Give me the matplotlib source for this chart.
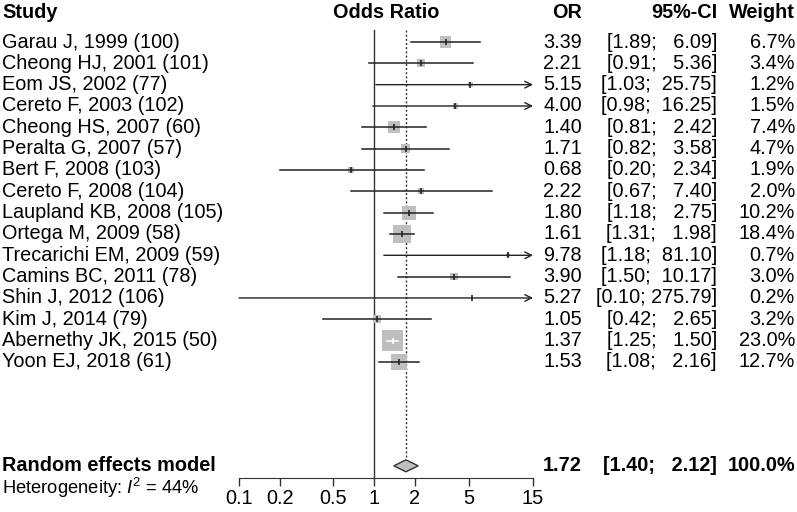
import numpy as np
import matplotlib
matplotlib.use("Agg")
import matplotlib.pyplot as plt
from matplotlib.patches import Polygon
from matplotlib.transforms import blended_transform_factory
from matplotlib.ticker import NullLocator

plt.rcParams['font.family'] = ['Liberation Sans', 'DejaVu Sans']
plt.rcParams['mathtext.fontset'] = 'custom'
plt.rcParams['mathtext.rm'] = 'Liberation Sans'
plt.rcParams['mathtext.it'] = 'Liberation Sans:italic'

# --- data ---
studies = ["Garau J, 1999 (100)", "Cheong HJ, 2001 (101)", "Eom JS, 2002 (77)",
           "Cereto F, 2003 (102)", "Cheong HS, 2007 (60)", "Peralta G, 2007 (57)",
           "Bert F, 2008 (103)", "Cereto F, 2008 (104)", "Laupland KB, 2008 (105)",
           "Ortega M, 2009 (58)", "Trecarichi EM, 2009 (59)", "Camins BC, 2011 (78)",
           "Shin J, 2012 (106)", "Kim J, 2014 (79)", "Abernethy JK, 2015 (50)",
           "Yoon EJ, 2018 (61)"]
odds = [3.39, 2.21, 5.15, 4.00, 1.40, 1.71, 0.68, 2.22, 1.80, 1.61, 9.78, 3.90,
        5.27, 1.05, 1.37, 1.53]
ci_low = [1.89, 0.91, 1.03, 0.98, 0.81, 0.82, 0.20, 0.67, 1.18, 1.31, 1.18, 1.50,
          0.10, 0.42, 1.25, 1.08]
ci_high = [6.09, 5.36, 25.75, 16.25, 2.42, 3.58, 2.34, 7.40, 2.75, 1.98, 81.10, 10.17,
           275.79, 2.65, 1.50, 2.16]
weights = [6.7, 3.4, 1.2, 1.5, 7.4, 4.7, 1.9, 2.0, 10.2, 18.4, 0.7, 3.0, 0.2, 3.2,
           23.0, 12.7]

pooled_or, pooled_low, pooled_high = 1.72, 1.40, 2.12
i2 = 44
tick_vals = [0.1, 0.2, 0.5, 1, 2, 5, 15]
tick_labels = ["0.1", "0.2", "0.5", "1", "2", "5", "15"]

W, H = 797, 512
fig = plt.figure(figsize=(W / 100, H / 100), dpi=100)
ax = fig.add_axes([239 / W, 0, (533 - 239) / W, 1])
ax.set_xscale('log')
ax.set_xlim(0.1, 15)
step = 21.33
ax.set_ylim((H - 42) / step, -42 / step)

rows = np.arange(len(studies))
r_sum = 19.87
r_het = 20.9
r_axis = (478 - 42) / step
r_head = (12 - 42) / step
r_top = (30 - 42) / step

grey = '#bfbfbf'
fs = 14.3

# reference lines
ax.plot([1, 1], [r_top, r_axis], color='#333333', lw=1.0, zorder=1)
ax.plot([pooled_or, pooled_or], [r_top, r_sum - 0.3], color='#333333', lw=1.0,
        ls=(0, (1.5, 1.5)), zorder=1)

lo_lim, hi_lim = ax.get_xlim()
to_px = ax.transData.transform
for r, est, lo, hi, w in zip(rows, odds, ci_low, ci_high, weights):
    side = 21 * np.sqrt(w / 23.0)
    x_est = to_px((est, r))[0]
    inside = (to_px((lo, r))[0] >= x_est - side / 2) and (to_px((hi, r))[0] <= x_est + side / 2)
    col = 'white' if inside else '#222222'
    a = max(lo, lo_lim)
    b = min(hi, hi_lim)
    ax.scatter([est], [r], marker='s', s=(side * 0.72) ** 2, color=grey,
               edgecolors='none', zorder=2)
    if hi > hi_lim:
        ax.annotate('', xy=(b, r), xytext=(a, r),
                    arrowprops=dict(arrowstyle='->', lw=1.0, color='#222222',
                                    shrinkA=0, shrinkB=0, mutation_scale=12),
                    zorder=3)
    else:
        ax.plot([a, b], [r, r], color=col, lw=1.1, zorder=3)
    ax.plot([est], [r], marker='|', ms=5, mew=1.2, color=col, zorder=4)

# pooled diamond
h = 0.28
ax.add_patch(Polygon([(pooled_low, r_sum), (pooled_or, r_sum - h),
                      (pooled_high, r_sum), (pooled_or, r_sum + h)],
                     closed=True, facecolor=grey, edgecolor='#333333', lw=1.0,
                     zorder=3))

# axis
for side_name in ['top', 'left', 'right']:
    ax.spines[side_name].set_visible(False)
ax.spines['bottom'].set_position(('data', r_axis))
ax.spines['bottom'].set_bounds(0.1, 15)
ax.spines['bottom'].set_color('#333333')
ax.set_xticks(tick_vals)
ax.set_xticklabels(tick_labels)
ax.xaxis.set_minor_locator(NullLocator())
ax.tick_params(axis='x', direction='out', length=6, width=1, color='#333333',
               labelsize=fs, pad=2)
ax.yaxis.set_visible(False)
ax.patch.set_visible(False)

# text columns
tr = blended_transform_factory(fig.transFigure, ax.transData)
def fx(px):
    return px / W

hi_width = max(len(f"{v:.2f}") for v in ci_high)

def ci_text(lo, hi):
    return f"[{lo:.2f}; {hi:>{hi_width}.2f}]"

ax.text(fx(2), r_head, "Study", transform=tr, ha='left', va='center',
        fontsize=fs, fontweight='bold')
ax.text(fx(386), r_head, "Odds Ratio", transform=tr, ha='center', va='center',
        fontsize=fs, fontweight='bold')
ax.text(fx(582), r_head, "OR", transform=tr, ha='right', va='center',
        fontsize=fs, fontweight='bold')
ax.text(fx(717), r_head, "95%-CI", transform=tr, ha='right', va='center',
        fontsize=fs, fontweight='bold')
ax.text(fx(795), r_head, "Weight", transform=tr, ha='right', va='center',
        fontsize=fs, fontweight='bold')

for r, name, est, lo, hi, w in zip(rows, studies, odds, ci_low, ci_high, weights):
    ax.text(fx(2), r, name, transform=tr, ha='left', va='center', fontsize=fs)
    ax.text(fx(582), r, f"{est:.2f}", transform=tr, ha='right', va='center', fontsize=fs)
    ax.text(fx(717), r, ci_text(lo, hi), transform=tr, ha='right', va='center', fontsize=fs)
    ax.text(fx(795), r, f"{w:.1f}%", transform=tr, ha='right', va='center', fontsize=fs)

ax.text(fx(2), r_sum, "Random effects model", transform=tr, ha='left', va='center',
        fontsize=fs, fontweight='bold')
ax.text(fx(582), r_sum, f"{pooled_or:.2f}", transform=tr, ha='right', va='center',
        fontsize=fs, fontweight='bold')
ax.text(fx(717), r_sum, ci_text(pooled_low, pooled_high), transform=tr, ha='right',
        va='center', fontsize=fs, fontweight='bold')
ax.text(fx(795), r_sum, "100.0%", transform=tr, ha='right', va='center',
        fontsize=fs, fontweight='bold')
ax.text(fx(2), r_het, f"Heterogeneity: $I^2$ = {i2}%", transform=tr, ha='left',
        va='center', fontsize=13.2)

fig.savefig("out.png", dpi=100)
